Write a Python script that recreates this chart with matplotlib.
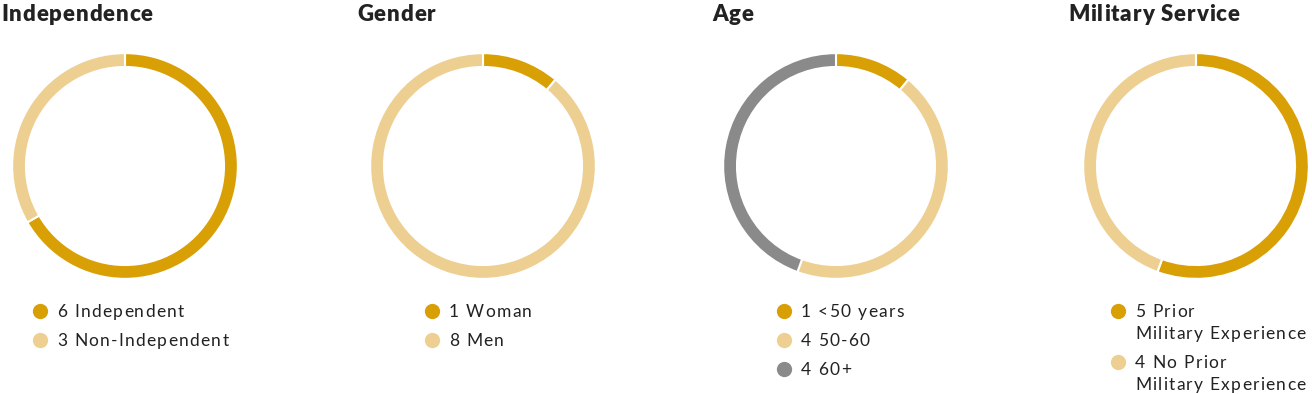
import matplotlib.pyplot as plt
from matplotlib.font_manager import FontProperties
from matplotlib.textpath import TextToPath

# chart data
titles = ["Independence", "Gender", "Age", "Military Service"]
counts = [
    [6, 3],
    [1, 8],
    [1, 4, 4],
    [5, 4],
]
labels = [
    ["Independent", "Non-Independent"],
    ["Woman", "Men"],
    ["<50 years", "50-60", "60+"],
    ["Prior\nMilitary Experience", "No Prior\nMilitary Experience"],
]

GOLD = "#D9A006"
TAN = "#EDCF92"
GRAY = "#8A8A8A"
colors = [GOLD, TAN, GRAY]
TEXT = "#222222"

W, H = 1312, 394
plt.rcParams["font.family"] = ["Lato", "DejaVu Sans"]

fig = plt.figure(figsize=(W / 100, H / 100), dpi=100)

# layout in pixels
centers_x = [125, 483, 836, 1196]
center_y = 166
radius = 114
ring = 14
title_x = [1, 357, 712, 1068]
legend_x = [40, 432, 784, 1118]
legend_y0 = 311
row_gap = 29
line_gap = 22

ttp = TextToPath()


def tracked_text(ax, x, y, s, size, spacing, weight="normal"):
    """draw s char by char with extra spacing (px) between letters"""
    prop = FontProperties(family="Lato", size=size, weight=weight)
    for i, ch in enumerate(s):
        if ch == " ":
            continue
        w = ttp.get_text_width_height_descent(s[:i], prop, ismath=False)[0] if i else 0
        ax.text(x + w * 100 / 72 + i * spacing, y, ch, fontproperties=prop,
                color=TEXT, ha="left", va="baseline")


# overlay axes in pixel coords for text + legend
ov = fig.add_axes([0, 0, 1, 1])
ov.set_xlim(0, W)
ov.set_ylim(H, 0)
ov.axis("off")

for i, title in enumerate(titles):
    cx = centers_x[i]
    ax = fig.add_axes([(cx - radius) / W, (H - center_y - radius) / H,
                       2 * radius / W, 2 * radius / H])
    ax.pie(counts[i], colors=colors[:len(counts[i])], startangle=90,
           counterclock=False, radius=1,
           wedgeprops=dict(width=ring / radius, edgecolor="white", linewidth=1.5))
    ax.set_xlim(-1.01, 1.01)
    ax.set_ylim(-1.01, 1.01)
    ax.set_aspect("equal")
    ax.axis("off")

    tracked_text(ov, title_x[i], 21, title, 16, 0.9, weight="heavy")

    y = legend_y0
    for j, (n, lab) in enumerate(zip(counts[i], labels[i])):
        ov.plot(legend_x[i], y, "o", markersize=11, color=colors[j],
                markeredgewidth=0)
        lines = f"{n} {lab}".split("\n")
        for k, line in enumerate(lines):
            tracked_text(ov, legend_x[i] + 17, y + 6, line, 12.5, 1.3)
            y += line_gap
        y += row_gap - line_gap

fig.savefig("out.png", dpi=100)
